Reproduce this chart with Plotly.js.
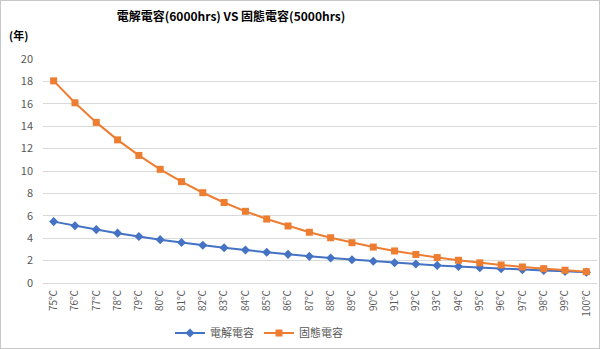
<!DOCTYPE html>
<html>
<head>
<meta charset="utf-8">
<script src="https://cdn.plot.ly/plotly-3.0.1.min.js"></script>
<style>
  html, body { margin: 0; padding: 0; background: #ffffff; }
  #frame { width: 598px; height: 347px; border: 1px solid #c8c8c8; }
  #chart { width: 598px; height: 347px; }
</style>
</head>
<body>
<div id="frame"><div id="chart"></div></div>
<script>
const categories = ["75℃","76℃","77℃","78℃","79℃","80℃","81℃","82℃","83℃","84℃","85℃","86℃","87℃","88℃","89℃","90℃","91℃","92℃","93℃","94℃","95℃","96℃","97℃","98℃","99℃","100℃"];
const electrolytic = [5.48,5.11,4.77,4.45,4.15,3.87,3.62,3.37,3.15,2.94,2.74,2.56,2.38,2.23,2.08,1.94,1.81,1.69,1.57,1.47,1.37,1.28,1.19,1.11,1.04,0.97];
const solid = [18.05,16.09,14.34,12.78,11.39,10.15,9.05,8.06,7.19,6.40,5.71,5.09,4.53,4.04,3.60,3.21,2.86,2.55,2.27,2.03,1.80,1.61,1.43,1.28,1.14,1.01];
const seriesNames = ["電解電容","固態電容"];
const yTicks = [0,2,4,6,8,10,12,14,16,18,20];

const font = "'Noto Sans CJK TC', 'Noto Sans', sans-serif";

const traces = [
  {
    x: categories, y: electrolytic, name: seriesNames[0], type: "scatter", mode: "lines+markers",
    line: { color: "#4472C4", width: 2 },
    marker: { symbol: "diamond", size: 7, color: "#4472C4" }
  },
  {
    x: categories, y: solid, name: seriesNames[1], type: "scatter", mode: "lines+markers",
    line: { color: "#ED7D31", width: 2 },
    marker: { symbol: "square", size: 7, color: "#ED7D31" }
  }
];

const layout = {
  width: 598, height: 347,
  margin: { l: 42, r: 2, t: 58, b: 65 },
  paper_bgcolor: "#ffffff", plot_bgcolor: "#ffffff",
  font: { family: font, color: "#595959", size: 10 },
  title: {
    text: "<b>電解電容(6000hrs) VS 固態電容(5000hrs)</b>",
    font: { family: font, size: 12, color: "#000000" },
    xref: "container", yref: "container",
    x: 230 / 598, xanchor: "center",
    y: 1 - 16 / 347, yanchor: "middle",
    automargin: false
  },
  xaxis: {
    type: "category",
    range: [-0.5, categories.length - 0.5],
    tickangle: -90,
    tickfont: { family: font, size: 10, color: "#595959" },
    showgrid: false, zeroline: false,
    showline: false, ticks: "",
    ticklabelstandoff: 4,
    automargin: false,
    fixedrange: true
  },
  yaxis: {
    range: [0, 20],
    tickvals: yTicks,
    ticktext: yTicks.map(String),
    tickfont: { family: font, size: 11, color: "#595959" },
    showgrid: true, gridcolor: "#D9D9D9", gridwidth: 1,
    zeroline: true, zerolinecolor: "#D9D9D9", zerolinewidth: 1,
    showline: false, ticks: "",
    ticklabelstandoff: 9,
    automargin: false,
    fixedrange: true
  },
  legend: {
    orientation: "h",
    xref: "container", yref: "container",
    x: 258 / 598, xanchor: "center",
    y: 1 - 332 / 347, yanchor: "middle",
    font: { family: font, size: 11, color: "#595959" },
    itemwidth: 30,
    tracegroupgap: 0
  },
  annotations: [
    {
      text: "<b>(年)</b>", xref: "paper", yref: "paper",
      x: (17 - 42) / 554, y: 1 + (58 - 34) / 224,
      xanchor: "center", yanchor: "middle", showarrow: false,
      font: { family: font, size: 11, color: "#000000" }
    }
  ],
  showlegend: true
};

Plotly.newPlot("chart", traces, layout, { displayModeBar: false, staticPlot: true });
</script>
</body>
</html>
